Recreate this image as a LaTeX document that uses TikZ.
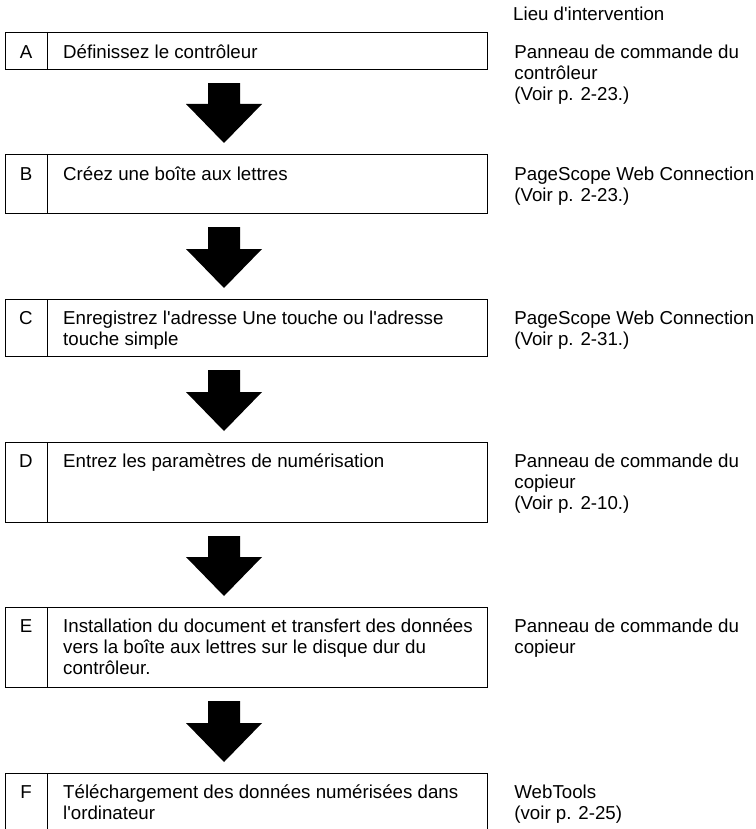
\documentclass[tikz,border=0pt]{standalone}
\usepackage{fontspec}
\newfontfamily\arialfont{Liberation Sans}
\usetikzlibrary{calc}
\newcommand\mlines[1]{\vtop{\halign{##\hfil\cr#1\crcr}}}
\begin{document}
\begin{tikzpicture}[x=1pt,y=-1pt,
  stepbox/.style={draw,line width=1.2pt,rectangle,minimum width=482pt,anchor=north west,inner sep=0pt},
  divider/.style={line width=1.2pt},
  txt/.style={font=\arialfont\fontsize{18.7}{21}\selectfont,inner sep=0pt,anchor=base west},
  lbl/.style={font=\arialfont\fontsize{18.7}{21}\selectfont,inner sep=0pt,anchor=base},
  blockarrow/.style={fill=black}]
\clip (0,0) rectangle (755,829);
\fill[white] (0,0) rectangle (755,829);
\coordinate (dv) at (47.5,0);

\node[txt] (head) at (513,21) {Lieu d'intervention};

% boxes
\node[stepbox,minimum height=37pt] (A) at (5,32) {};
\node[stepbox,minimum height=59pt] (B) at (5,154) {};
\node[stepbox,minimum height=57pt] (C) at (5,299) {};
\node[stepbox,minimum height=80pt] (D) at (5,442) {};
\node[stepbox,minimum height=80pt] (E) at (5,607) {};
\node[stepbox,minimum height=100pt] (F) at (5,773) {};

\foreach \b in {A,B,C,D,E,F} {
  \draw[divider] (\b.north -| dv) -- (\b.south -| dv);
}

% letters
\node[lbl] (Al) at ($(A.north west)+(21,26.5)$) {A};
\node[lbl] (Bl) at ($(B.north west)+(21,26)$) {B};
\node[lbl] (Cl) at ($(C.north west)+(21,25)$) {C};
\node[lbl] (Dl) at ($(D.north west)+(21,25)$) {D};
\node[lbl] (El) at ($(E.north west)+(21,25)$) {E};
\node[lbl] (Fl) at ($(F.north west)+(21,25)$) {F};

% step texts
\node[txt] (At) at ($(A.north west)+(58,26.5)$) {Définissez le contrôleur};
\node[txt] (Bt) at ($(B.north west)+(58,26)$) {Créez une boîte aux lettres};
\node[txt] (Ct) at ($(C.north west)+(58,25)$) {\mlines{Enregistrez l'adresse Une touche ou l'adresse\cr touche simple}};
\node[txt] (Dt) at ($(D.north west)+(58,25)$) {Entrez les paramètres de numérisation};
\node[txt] (Et) at ($(E.north west)+(58,25)$) {\mlines{Installation du document et transfert des données\cr vers la boîte aux lettres sur le disque dur du\cr contrôleur.}};
\node[txt] (Ft) at ($(F.north west)+(58,25)$) {\mlines{Téléchargement des données numérisées dans\cr l'ordinateur}};

% place texts
\node[txt] (Ar) at ($(A.north east)+(26,26.5)$) {\mlines{Panneau de commande du\cr contrôleur\cr (Voir p. 2-23.)}};
\node[txt] (Br) at ($(B.north east)+(26,26)$) {\mlines{PageScope Web Connection\cr (Voir p. 2-23.)}};
\node[txt] (Cr) at ($(C.north east)+(26,25)$) {\mlines{PageScope Web Connection\cr (Voir p. 2-31.)}};
\node[txt] (Dr) at ($(D.north east)+(26,25)$) {\mlines{Panneau de commande du\cr copieur\cr (Voir p. 2-10.)}};
\node[txt] (Er) at ($(E.north east)+(26,25)$) {\mlines{Panneau de commande du\cr copieur}};
\node[txt] (Fr) at ($(F.north east)+(26,25)$) {\mlines{WebTools\cr (voir p. 2-25)}};

% block arrows
\foreach \a/\b in {A/B,B/C,C/D,D/E,E/F} {
  \fill[blockarrow] let \p1=(\a.south), \p2=(\b.north) in
    (208pt,\y1-13pt) -- (240pt,\y1-13pt) -- (240pt,\y2+50pt) -- (262pt,\y2+50pt)
    -- (224pt,\y2+11pt) -- (186pt,\y2+50pt) -- (208pt,\y2+50pt) -- cycle;
}
\end{tikzpicture}
\end{document}
